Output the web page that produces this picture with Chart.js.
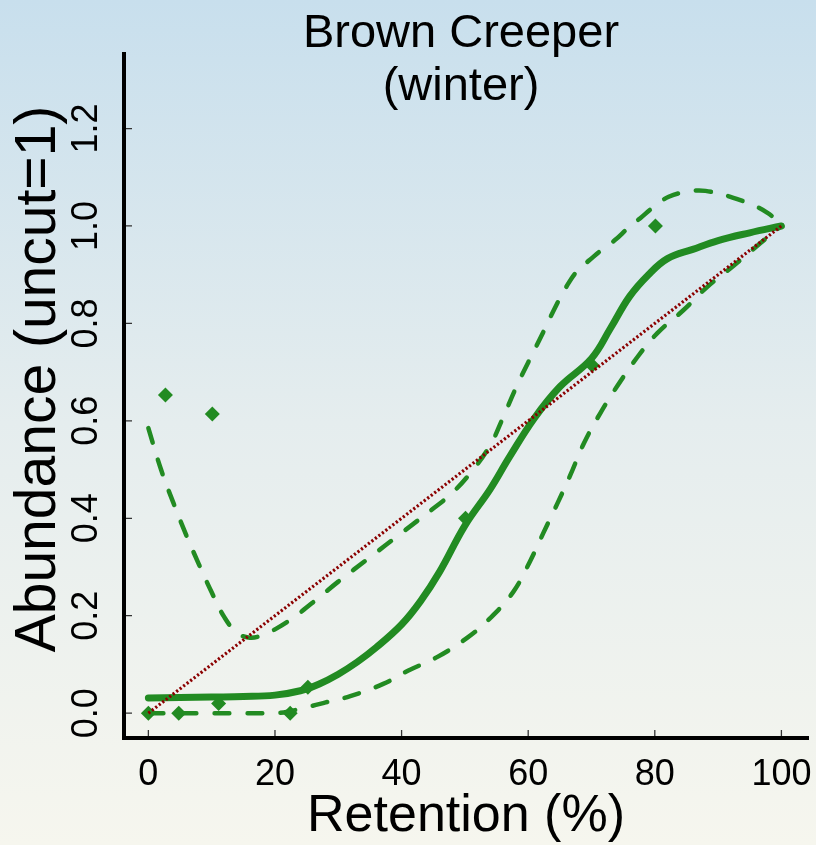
<!DOCTYPE html>
<html><head><meta charset="utf-8">
<script src="https://cdn.jsdelivr.net/npm/chart.js@4"></script>
<style>html,body{margin:0;padding:0;overflow:hidden;background:#fff}</style>
</head><body>
<canvas id="c" width="816" height="845"></canvas>
<script>
const titleLines = ['Brown Creeper', '(winter)'];
const xTitle = 'Retention (%)';
const yTitle = 'Abundance (uncut=1)';
const xTicks = [0, 20, 40, 60, 80, 100];
const yTicks = [0, 0.2, 0.4, 0.6, 0.8, 1.0, 1.2];

// observed (diamonds)
const obsX = [0, 2.7, 4.8, 10.1, 11.1, 22.4, 25.2, 50.1, 70.1, 80.1];
const obsY = [0.0, 0.653, 0.0, 0.614, 0.02, 0.0, 0.053, 0.40, 0.714, 1.0];

// fitted curve (solid)
const fitX = [0, 5, 10, 15, 20, 24, 27, 30, 33, 36, 40, 43, 46, 50, 54, 57, 61, 65, 70, 73, 76, 79, 82, 86, 90, 95, 100];
const fitY = [0.031, 0.032, 0.033, 0.034, 0.037, 0.046, 0.06, 0.08, 0.105, 0.135, 0.182, 0.23, 0.29, 0.385, 0.46, 0.525, 0.606, 0.67, 0.728, 0.79, 0.855, 0.9, 0.933, 0.952, 0.97, 0.986, 1.0];

// upper confidence band (dashed)
const upX = [0, 2, 4, 6, 8, 10, 12, 14, 16, 18, 20, 23, 27, 30, 35, 40, 45, 48, 51, 54, 56, 58, 60, 62, 64, 66.2, 67.9, 69.7, 71.6, 73.7, 75.8, 77.7, 79.8, 82.2, 85, 88, 93.5, 97.8, 100];
const upY = [0.585, 0.5, 0.43, 0.365, 0.305, 0.248, 0.197, 0.165, 0.155, 0.16, 0.172, 0.197, 0.238, 0.27, 0.32, 0.37, 0.42, 0.452, 0.495, 0.55, 0.606, 0.666, 0.72, 0.772, 0.826, 0.879, 0.91, 0.93, 0.951, 0.971, 0.996, 1.016, 1.039, 1.06, 1.07, 1.072, 1.053, 1.027, 1.0];

// lower confidence band (dashed)
const loX = [0, 5, 10, 15, 20, 22, 25.6, 28, 31.9, 37.1, 41, 45.6, 50.4, 54, 57.7, 60.3, 62.4, 64.6, 66.7, 68.8, 71.4, 74.1, 77.2, 80.4, 84.5, 88.3, 92.4, 96.7, 100];
const loY = [0.0, 0.0, 0.0, 0.0, 0.0, 0.003, 0.014, 0.022, 0.035, 0.06, 0.087, 0.115, 0.155, 0.195, 0.25, 0.312, 0.37, 0.43, 0.49, 0.554, 0.616, 0.672, 0.73, 0.78, 0.827, 0.875, 0.918, 0.965, 1.0];

// 1:1 reference line (dotted)
const refX = [0, 100];
const refY = [0, 1];

const pts = (xs, ys) => xs.map((x, i) => ({x: x, y: ys[i]}));
const GREEN = '#228B22';
const FONT = "'Liberation Sans', Arial, sans-serif";

const bgPlugin = {
  id: 'bg',
  beforeDraw(chart) {
    const ctx = chart.ctx;
    const g = ctx.createLinearGradient(0, 0, 0, chart.height);
    g.addColorStop(0, '#c8dfed');
    g.addColorStop(0.5, '#e5edee');
    g.addColorStop(1, '#f6f6ee');
    ctx.save();
    ctx.fillStyle = g;
    ctx.fillRect(0, 0, chart.width, chart.height);
    ctx.restore();
  }
};

const decoPlugin = {
  id: 'deco',
  afterDraw(chart) {
    const ctx = chart.ctx;
    const xs = chart.scales.x, ys = chart.scales.y;
    const ca = chart.chartArea;
    ctx.save();
    ctx.strokeStyle = '#333';
    ctx.lineWidth = 1.3;
    ctx.beginPath();
    yTicks.forEach(v => {
      const p = ys.getPixelForValue(v);
      ctx.moveTo(ca.left + 2, p); ctx.lineTo(ca.left + 8, p);
    });
    xTicks.forEach(v => {
      const p = xs.getPixelForValue(v);
      ctx.moveTo(p, ca.bottom - 2); ctx.lineTo(p, ca.bottom - 8);
    });
    ctx.stroke();
    ctx.fillStyle = '#000';
    ctx.textAlign = 'center';
    ctx.textBaseline = 'alphabetic';
    // chart title
    ctx.font = '47px ' + FONT;
    ctx.fillText(titleLines[0], 461, 47);
    ctx.fillText(titleLines[1], 461, 100);
    // y axis title
    ctx.font = '57px ' + FONT;
    ctx.translate(55, 379);
    ctx.rotate(-Math.PI / 2);
    ctx.fillText(yTitle, 0, 0);
    ctx.restore();
  }
};

new Chart(document.getElementById('c'), {
  type: 'scatter',
  data: {
    datasets: [
      {label: 'observed', data: pts(obsX, obsY), showLine: false, pointStyle: 'rectRot', pointRadius: 7.5, pointHoverRadius: 7.5, backgroundColor: GREEN, borderColor: GREEN, borderWidth: 0, order: 5},
      {label: 'lower', data: pts(loX, loY), showLine: true, borderColor: GREEN, borderWidth: 4.5, borderDash: [15, 18], borderCapStyle: 'round', pointRadius: 0, tension: 0.4, order: 4},
      {label: 'upper', data: pts(upX, upY), showLine: true, borderColor: GREEN, borderWidth: 4.5, borderDash: [15, 18], borderCapStyle: 'round', pointRadius: 0, tension: 0.4, order: 3},
      {label: 'fit', data: pts(fitX, fitY), showLine: true, borderColor: GREEN, borderWidth: 7, borderCapStyle: 'round', borderJoinStyle: 'round', pointRadius: 0, tension: 0.4, order: 2},
      {label: '1:1', data: pts(refX, refY), showLine: true, borderColor: '#8B0000', borderWidth: 3.2, borderDash: [2.2, 2.2], pointRadius: 0, order: 1}
    ]
  },
  options: {
    responsive: false,
    animation: false,
    devicePixelRatio: 1,
    layout: {padding: {left: 0, right: 8, top: 54, bottom: 0}},
    plugins: {legend: {display: false}, tooltip: {enabled: false}, title: {display: false}},
    scales: {
      x: {
        type: 'linear', min: -3.85, max: 104.2,
        afterFit: s => { s.height = 107; s.paddingLeft = 0; s.paddingRight = 0; },
        afterBuildTicks: s => { s.ticks = xTicks.map(v => ({value: v})); },
        grid: {display: false, drawTicks: false},
        border: {display: true, color: '#000', width: 4},
        ticks: {color: '#000', font: {family: FONT, size: 36}, padding: 15, maxRotation: 0, autoSkip: false},
        title: {display: true, text: xTitle, color: '#000', font: {family: FONT, size: 52, lineHeight: 1}, padding: {top: 0, bottom: 2}}
      },
      y: {
        type: 'linear', min: -0.051, max: 1.353,
        afterFit: s => { s.width = 124; s.paddingTop = 0; s.paddingBottom = 0; },
        afterBuildTicks: s => { s.ticks = yTicks.map(v => ({value: v})); },
        grid: {display: false, drawTicks: false},
        border: {display: true, color: '#000', width: 4},
        ticks: {color: '#000', font: {family: FONT, size: 36}, padding: 12, minRotation: 90, maxRotation: 90, crossAlign: 'center', autoSkip: false,
          callback: v => v.toFixed(1)},
        title: {display: false}
      }
    }
  },
  plugins: [bgPlugin, decoPlugin]
});
</script>
</body></html>
